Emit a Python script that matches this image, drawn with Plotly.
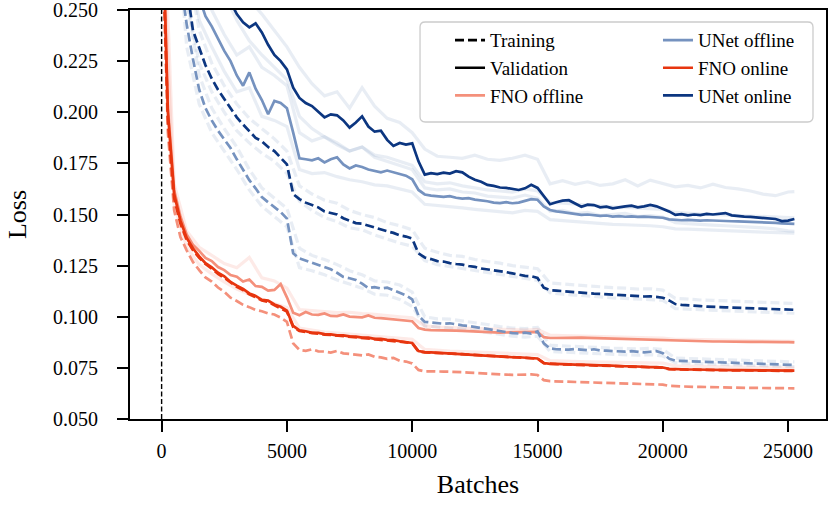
import plotly.graph_objects as go

# ---------------- data ----------------
batches = list(range(0, 25001, 250)) + [25250]          # 102 points
batches_coarse = list(range(0, 25001, 500)) + [25250]   # 52 points
divider_batch = 0

fno_on_val = [
    0.310, 0.200, 0.160, 0.147, 0.1385, 0.1335, 0.1295, 0.1262, 0.1242, 0.1215,
    0.1198, 0.1170, 0.1152, 0.1136, 0.1114, 0.1102, 0.1083, 0.1079, 0.1060, 0.1049,
    0.1030, 0.0955, 0.0933, 0.0929, 0.0921, 0.0921, 0.0915, 0.0914, 0.0909, 0.0909,
    0.0904, 0.0903, 0.0898, 0.0898, 0.0892, 0.0892, 0.0887, 0.0886, 0.0880, 0.0877,
    0.0872, 0.0832, 0.0827, 0.0826, 0.0824, 0.0824, 0.0821, 0.0821, 0.0818, 0.0817,
    0.0814, 0.0813, 0.0810, 0.0809, 0.0806, 0.0805, 0.0802, 0.0802, 0.0800, 0.0799,
    0.0796, 0.0774, 0.0770, 0.0770, 0.0768, 0.0768, 0.0766, 0.0766, 0.0764, 0.0764,
    0.0762, 0.0762, 0.0760, 0.0760, 0.0758, 0.0758, 0.0756, 0.0756, 0.0754, 0.0754,
    0.0752, 0.0745, 0.0743, 0.0743, 0.0742, 0.0742, 0.0741, 0.0741, 0.0740, 0.0740,
    0.0740, 0.0739, 0.0739, 0.0739, 0.0738, 0.0738, 0.0738, 0.0737, 0.0737, 0.0737,
    0.0736, 0.0737,
]
fno_on_train = [
    0.300, 0.196, 0.158, 0.1455, 0.1375, 0.1325, 0.1288, 0.1258, 0.1235, 0.1210,
    0.1190, 0.1166, 0.1146, 0.1130, 0.1110, 0.1096, 0.1080, 0.1072, 0.1057, 0.1044,
    0.1025, 0.0950, 0.0930, 0.0925, 0.0920, 0.0917, 0.0913, 0.0911, 0.0908, 0.0905,
    0.0902, 0.0900, 0.0897, 0.0895, 0.0891, 0.0889, 0.0886, 0.0883, 0.0879, 0.0875,
    0.0870, 0.0830, 0.0826, 0.0825, 0.0823, 0.0822, 0.0820, 0.0819, 0.0817, 0.0815,
    0.0813, 0.0811, 0.0809, 0.0807, 0.0805, 0.0803, 0.0801, 0.0800, 0.0799, 0.0797,
    0.0795, 0.0773, 0.0769, 0.0768, 0.0767, 0.0766, 0.0765, 0.0764, 0.0763, 0.0762,
    0.0761, 0.0760, 0.0759, 0.0758, 0.0757, 0.0756, 0.0755, 0.0754, 0.0753, 0.0752,
    0.0751, 0.0744, 0.0742, 0.0742, 0.0741, 0.0741, 0.0740, 0.0740, 0.0739, 0.0739,
    0.0739, 0.0738, 0.0738, 0.0738, 0.0737, 0.0737, 0.0737, 0.0736, 0.0736, 0.0736,
    0.0735, 0.0735,
]
fno_off_val = [
    0.312, 0.202, 0.162, 0.149, 0.1402, 0.1352, 0.1322, 0.1288, 0.1272, 0.1243,
    0.1228, 0.1204, 0.1196, 0.1172, 0.1182, 0.1150, 0.1146, 0.1128, 0.1131, 0.1160,
    0.1095, 0.1020, 0.1007, 0.1023, 0.1011, 0.1009, 0.1016, 0.1004, 0.1003, 0.1011,
    0.1001, 0.1000, 0.0997, 0.1006, 0.0995, 0.0993, 0.0990, 0.0989, 0.0985, 0.0982,
    0.0978, 0.0945, 0.0937, 0.0935, 0.0935, 0.0934, 0.0933, 0.0932, 0.0931, 0.0929,
    0.0928, 0.0927, 0.0926, 0.0924, 0.0922, 0.0923, 0.0924, 0.0925, 0.0924, 0.0926,
    0.0926, 0.0900, 0.0896, 0.0896, 0.0897, 0.0897, 0.0898, 0.0898, 0.0897, 0.0896,
    0.0895, 0.0894, 0.0893, 0.0892, 0.0891, 0.0891, 0.0890, 0.0889, 0.0888, 0.0888,
    0.0887, 0.0883, 0.0882, 0.0881, 0.0881, 0.0880, 0.0880, 0.0879, 0.0879, 0.0879,
    0.0878, 0.0878, 0.0878, 0.0877, 0.0877, 0.0877, 0.0876, 0.0876, 0.0876, 0.0876,
    0.0876, 0.0875,
]
fno_off_train = [
    0.300, 0.190, 0.152, 0.139, 0.1325, 0.1268, 0.1228, 0.1192, 0.1172, 0.1143,
    0.1122, 0.1093, 0.1077, 0.1058, 0.1047, 0.1033, 0.1027, 0.1016, 0.1011, 0.0996,
    0.0975, 0.0870, 0.0838, 0.0833, 0.0841, 0.0831, 0.0830, 0.0825, 0.0833, 0.0821,
    0.0818, 0.0815, 0.0811, 0.0816, 0.0804, 0.0801, 0.0794, 0.0799, 0.0785, 0.0781,
    0.0772, 0.0740, 0.0733, 0.0733, 0.0734, 0.0732, 0.0731, 0.0731, 0.0729, 0.0727,
    0.0725, 0.0723, 0.0721, 0.0719, 0.0716, 0.0717, 0.0716, 0.0717, 0.0716, 0.0718,
    0.0715, 0.0690, 0.0685, 0.0684, 0.0683, 0.0682, 0.0681, 0.0681, 0.0680, 0.0679,
    0.0678, 0.0678, 0.0677, 0.0676, 0.0675, 0.0674, 0.0673, 0.0671, 0.0670, 0.0669,
    0.0668, 0.0662, 0.0660, 0.0659, 0.0658, 0.0657, 0.0657, 0.0656, 0.0655, 0.0655,
    0.0654, 0.0654, 0.0653, 0.0653, 0.0652, 0.0652, 0.0652, 0.0651, 0.0651, 0.0651,
    0.0651, 0.0650,
]
unet_off_val = [
    0.800, 0.550, 0.420, 0.350, 0.300, 0.275, 0.256, 0.247, 0.242, 0.236,
    0.230, 0.225, 0.218, 0.213, 0.2195, 0.2115, 0.2060, 0.1990, 0.2055, 0.2045,
    0.2020, 0.1900, 0.1775, 0.1770, 0.1765, 0.1775, 0.1755, 0.1770, 0.1780, 0.1745,
    0.1725, 0.1740, 0.1732, 0.1720, 0.1712, 0.1706, 0.1715, 0.1705, 0.1698, 0.1690,
    0.1672, 0.1620, 0.1598, 0.1592, 0.1590, 0.1586, 0.1590, 0.1582, 0.1578, 0.1580,
    0.1573, 0.1570, 0.1565, 0.1558, 0.1556, 0.1560, 0.1555, 0.1558, 0.1565, 0.1575,
    0.1572, 0.1540, 0.1522, 0.1515, 0.1512, 0.1508, 0.1502, 0.1498, 0.1500, 0.1496,
    0.1493, 0.1495, 0.1490, 0.1492, 0.1489, 0.1491, 0.1488, 0.1490, 0.1489, 0.1486,
    0.1484, 0.1476, 0.1473, 0.1472, 0.1474, 0.1471, 0.1470, 0.1472, 0.1470, 0.1468,
    0.1469, 0.1467, 0.1466, 0.1465, 0.1466, 0.1463, 0.1462, 0.1460, 0.1459, 0.1457,
    0.1455, 0.1454,
]
unet_off_train = [
    0.550, 0.420, 0.330, 0.265, 0.243, 0.226, 0.2110, 0.2020, 0.1960, 0.1910,
    0.1865, 0.1825, 0.1770, 0.1718, 0.1668, 0.1628, 0.1585, 0.1560, 0.1535, 0.1512,
    0.1480, 0.1310, 0.1285, 0.1275, 0.1262, 0.1255, 0.1242, 0.1232, 0.1215, 0.1195,
    0.1188, 0.1180, 0.1162, 0.1140, 0.1145, 0.1138, 0.1142, 0.1130, 0.1118, 0.1105,
    0.1085, 0.1005, 0.0975, 0.0972, 0.0968, 0.0966, 0.0968, 0.0962, 0.0958, 0.0955,
    0.0950, 0.0944, 0.0938, 0.0932, 0.0928, 0.0925, 0.0920, 0.0918, 0.0922, 0.0918,
    0.0928, 0.0870, 0.0845, 0.0841, 0.0840, 0.0839, 0.0842, 0.0838, 0.0836, 0.0841,
    0.0835, 0.0834, 0.0832, 0.0830, 0.0829, 0.0832, 0.0828, 0.0826, 0.0829, 0.0832,
    0.0822, 0.0795, 0.0785, 0.0784, 0.0783, 0.0782, 0.0781, 0.0780, 0.0779, 0.0778,
    0.0777, 0.0776, 0.0775, 0.0774, 0.0773, 0.0772, 0.0770, 0.0769, 0.0767, 0.0766,
    0.0765, 0.0764,
]
unet_on_val = [
    0.900, 0.700, 0.550, 0.450, 0.390, 0.350, 0.320, 0.300, 0.285, 0.272,
    0.262, 0.254, 0.248, 0.2440, 0.2415, 0.2435, 0.2390, 0.2330, 0.2280, 0.2250,
    0.2210, 0.2120, 0.2070, 0.2045, 0.2030, 0.2000, 0.1975, 0.1990, 0.1985, 0.1960,
    0.1925, 0.1950, 0.1980, 0.1930, 0.1905, 0.1910, 0.1865, 0.1835, 0.1850, 0.1842,
    0.1848, 0.1760, 0.1695, 0.1702, 0.1698, 0.1705, 0.1700, 0.1712, 0.1706, 0.1685,
    0.1670, 0.1660, 0.1645, 0.1640, 0.1632, 0.1630, 0.1625, 0.1620, 0.1628, 0.1645,
    0.1630, 0.1590, 0.1550, 0.1560, 0.1568, 0.1570, 0.1552, 0.1538, 0.1548, 0.1546,
    0.1535, 0.1538, 0.1530, 0.1536, 0.1540, 0.1543, 0.1535, 0.1540, 0.1547, 0.1540,
    0.1528, 0.1515, 0.1498, 0.1502, 0.1496, 0.1500, 0.1497, 0.1503, 0.1500, 0.1505,
    0.1507, 0.1496, 0.1492, 0.1490, 0.1488, 0.1485, 0.1483, 0.1481, 0.1478, 0.1468,
    0.1470, 0.1478,
]
unet_on_train = [
    0.600, 0.450, 0.360, 0.300, 0.262, 0.240, 0.231, 0.2230, 0.2165, 0.2110,
    0.2065, 0.2020, 0.1975, 0.1940, 0.1905, 0.1875, 0.1858, 0.1830, 0.1810, 0.1780,
    0.1745, 0.1600, 0.1575, 0.1558, 0.1548, 0.1535, 0.1515, 0.1508, 0.1500, 0.1482,
    0.1470, 0.1458, 0.1455, 0.1445, 0.1436, 0.1425, 0.1418, 0.1410, 0.1398, 0.1392,
    0.1382, 0.1310, 0.1290, 0.1282, 0.1272, 0.1270, 0.1262, 0.1258, 0.1255, 0.1248,
    0.1244, 0.1236, 0.1232, 0.1228, 0.1222, 0.1218, 0.1212, 0.1205, 0.1200, 0.1198,
    0.1190, 0.1142, 0.1130, 0.1128, 0.1125, 0.1122, 0.1120, 0.1118, 0.1115, 0.1113,
    0.1112, 0.1110, 0.1107, 0.1106, 0.1104, 0.1102, 0.1100, 0.1099, 0.1100, 0.1097,
    0.1093, 0.1080, 0.1062, 0.1058, 0.1055, 0.1054, 0.1052, 0.1050, 0.1050, 0.1047,
    0.1046, 0.1045, 0.1043, 0.1042, 0.1041, 0.1040, 0.1039, 0.1038, 0.1037, 0.1036,
    0.1035, 0.1034,
]

# individual runs (faint), on the coarse grid
unet_on_val_run_a = [
    0.950, 0.600, 0.420, 0.340, 0.300, 0.275, 0.262, 0.255, 0.248, 0.240,
    0.232, 0.222, 0.214, 0.208, 0.210, 0.202, 0.212, 0.203, 0.197, 0.195,
    0.190, 0.182, 0.1785, 0.1780, 0.1775, 0.1790, 0.1770, 0.1765, 0.1775, 0.1790,
    0.1770, 0.1650, 0.1665, 0.1648, 0.1660, 0.1642, 0.1650, 0.1670, 0.1640, 0.1668,
    0.1650, 0.1635, 0.1642, 0.1630, 0.1648, 0.1632, 0.1625, 0.1615, 0.1600, 0.1592,
    0.1610, 0.1612,
]
unet_on_val_run_b = [
    0.900, 0.550, 0.380, 0.310, 0.275, 0.258, 0.245, 0.235, 0.228, 0.222,
    0.216, 0.198, 0.192, 0.188, 0.185, 0.181, 0.183, 0.178, 0.176, 0.174,
    0.172, 0.163, 0.162, 0.1625, 0.161, 0.1605, 0.159, 0.1585, 0.158, 0.1595,
    0.1580, 0.1515, 0.1520, 0.1505, 0.1510, 0.1495, 0.1500, 0.1505, 0.1490, 0.1495,
    0.1488, 0.1460, 0.1455, 0.1450, 0.1448, 0.1445, 0.1440, 0.1438, 0.1435, 0.1430,
    0.1420, 0.1418,
]
unet_off_val_run_a = [
    0.850, 0.460, 0.320, 0.265, 0.250, 0.238, 0.228, 0.232, 0.222, 0.218,
    0.213, 0.190, 0.186, 0.188, 0.184, 0.181, 0.183, 0.179, 0.178, 0.176,
    0.174, 0.166, 0.165, 0.1655, 0.164, 0.163, 0.162, 0.1615, 0.161, 0.1625,
    0.1615, 0.1560, 0.1555, 0.1550, 0.1545, 0.1540, 0.1538, 0.1535, 0.1532, 0.1530,
    0.1525, 0.1510, 0.1505, 0.1502, 0.1500, 0.1498, 0.1495, 0.1492, 0.1490, 0.1488,
    0.1485, 0.1484,
]
unet_off_val_run_b = [
    0.750, 0.400, 0.280, 0.245, 0.232, 0.220, 0.210, 0.212, 0.198, 0.196,
    0.193, 0.172, 0.170, 0.1705, 0.1685, 0.167, 0.166, 0.1645, 0.164, 0.1625,
    0.161, 0.155, 0.1545, 0.1540, 0.1532, 0.1525, 0.152, 0.1512, 0.1508, 0.152,
    0.1515, 0.1475, 0.1470, 0.1465, 0.1460, 0.1455, 0.1452, 0.1450, 0.1448, 0.1445,
    0.1440, 0.1430, 0.1428, 0.1425, 0.1423, 0.1420, 0.1418, 0.1416, 0.1414, 0.1412,
    0.1410, 0.1409,
]
unet_on_train_run_a = [
    0.620, 0.380, 0.275, 0.240, 0.224, 0.213, 0.204, 0.197, 0.192, 0.187,
    0.181, 0.164, 0.160, 0.157, 0.1555, 0.152, 0.150, 0.1485, 0.146, 0.1445,
    0.1425, 0.1335, 0.1315, 0.1300, 0.1295, 0.1280, 0.1270, 0.1262, 0.1250, 0.1242,
    0.1235, 0.1165, 0.1160, 0.1155, 0.1150, 0.1148, 0.1142, 0.1140, 0.1135, 0.1137,
    0.1130, 0.1090, 0.1085, 0.1082, 0.1080, 0.1078, 0.1075, 0.1073, 0.1070, 0.1068,
    0.1066, 0.1065,
]
unet_on_train_run_b = [
    0.580, 0.350, 0.255, 0.224, 0.210, 0.200, 0.191, 0.185, 0.180, 0.176,
    0.170, 0.1565, 0.152, 0.1485, 0.1465, 0.1435, 0.1425, 0.140, 0.138, 0.136,
    0.1345, 0.1275, 0.1255, 0.1245, 0.1235, 0.1225, 0.1215, 0.1205, 0.1195, 0.1188,
    0.1178, 0.1118, 0.1110, 0.1106, 0.1100, 0.1097, 0.1092, 0.1090, 0.1086, 0.1084,
    0.1080, 0.1040, 0.1037, 0.1034, 0.1031, 0.1029, 0.1027, 0.1025, 0.1022, 0.1020,
    0.1018, 0.1017,
]
unet_off_train_run_a = [
    0.570, 0.350, 0.255, 0.218, 0.202, 0.192, 0.183, 0.172, 0.163, 0.158,
    0.153, 0.1335, 0.1300, 0.1280, 0.1255, 0.1225, 0.1205, 0.1175, 0.1170, 0.1155,
    0.1120, 0.1000, 0.0990, 0.0988, 0.0980, 0.0972, 0.0962, 0.0952, 0.0945, 0.0942,
    0.0948, 0.0860, 0.0856, 0.0855, 0.0852, 0.0848, 0.0846, 0.0845, 0.0842, 0.0846,
    0.0840, 0.0798, 0.0795, 0.0793, 0.0792, 0.0790, 0.0788, 0.0786, 0.0784, 0.0782,
    0.0780, 0.0779,
]
unet_off_train_run_b = [
    0.530, 0.310, 0.232, 0.204, 0.190, 0.181, 0.172, 0.162, 0.154, 0.149,
    0.144, 0.1240, 0.1225, 0.1205, 0.1180, 0.1160, 0.1140, 0.1110, 0.1105, 0.1085,
    0.1050, 0.0955, 0.0950, 0.0946, 0.0940, 0.0932, 0.0922, 0.0914, 0.0905, 0.0900,
    0.0905, 0.0830, 0.0826, 0.0825, 0.0822, 0.0819, 0.0817, 0.0815, 0.0812, 0.0815,
    0.0808, 0.0775, 0.0772, 0.0770, 0.0769, 0.0767, 0.0765, 0.0763, 0.0761, 0.0759,
    0.0757, 0.0756,
]
fno_val_run_a = [
    0.330, 0.165, 0.142, 0.134, 0.130, 0.126, 0.124, 0.1290, 0.119, 0.1175,
    0.114, 0.1035, 0.1030, 0.1025, 0.1020, 0.1022, 0.1015, 0.1012, 0.1005, 0.1000,
    0.0995, 0.0955, 0.0950, 0.0948, 0.0945, 0.0943, 0.0940, 0.0938, 0.0936, 0.0935,
    0.0938, 0.0910, 0.0908, 0.0907, 0.0905, 0.0904, 0.0902, 0.0900, 0.0898, 0.0897,
    0.0895, 0.0890, 0.0889, 0.0888, 0.0887, 0.0886, 0.0885, 0.0884, 0.0883, 0.0882,
    0.0881, 0.0880,
]
fno_val_run_b = [
    0.300, 0.155, 0.134, 0.1255, 0.121, 0.117, 0.1135, 0.111, 0.1085, 0.1065,
    0.1045, 0.0945, 0.0935, 0.0925, 0.0920, 0.0915, 0.0910, 0.0905, 0.0900, 0.0895,
    0.0890, 0.0840, 0.0835, 0.0832, 0.0830, 0.0828, 0.0825, 0.0822, 0.0820, 0.0818,
    0.0815, 0.0785, 0.0782, 0.0780, 0.0779, 0.0778, 0.0777, 0.0776, 0.0775, 0.0774,
    0.0773, 0.0760, 0.0758, 0.0757, 0.0756, 0.0755, 0.0754, 0.0753, 0.0752, 0.0751,
    0.0750, 0.0749,
]

y_ticks = [0.050, 0.075, 0.100, 0.125, 0.150, 0.175, 0.200, 0.225, 0.250]
x_ticks = [0, 5000, 10000, 15000, 20000, 25000]

# ---------------- style ----------------
FONT = "Liberation Serif"
C_FNO_OFF = "#f4907b"
C_FNO_ON = "#e7350f"
C_UNET_OFF = "#7592bf"
C_UNET_ON = "#0c3680"
FAINT_UNET = "rgba(117,146,191,0.17)"
FAINT_FNO = "rgba(231,53,15,0.10)"
LW = 2.7
DASH = "9px,4px"

fig = go.Figure()

def add(x, y, color, dash=None, width=LW, name=None, legend=None, rank=None, show=False):
    fig.add_trace(go.Scatter(
        x=x, y=y, mode="lines", name=name,
        line=dict(color=color, width=width, dash=dash or "solid"),
        showlegend=show, legend=legend, legendrank=rank,
        legendgroup=name, hoverinfo="skip"))

# faint individual runs
for run in (unet_on_val_run_a, unet_on_val_run_b, unet_off_val_run_a, unet_off_val_run_b):
    add(batches_coarse, run, FAINT_UNET, width=3.2)
for run in (unet_on_train_run_a, unet_on_train_run_b, unet_off_train_run_a, unet_off_train_run_b):
    add(batches_coarse, run, FAINT_UNET, dash=DASH, width=3.2)
for run in (fno_val_run_a, fno_val_run_b):
    add(batches_coarse, run, FAINT_FNO, width=3.2)

# main curves
add(batches, fno_off_train, C_FNO_OFF, dash=DASH)
add(batches, fno_off_val, C_FNO_OFF, name="FNO offline", legend="legend", rank=3, show=True)
add(batches, unet_off_train, C_UNET_OFF, dash=DASH)
add(batches, unet_off_val, C_UNET_OFF, name="UNet offline", legend="legend2", rank=1, show=True)
add(batches, fno_on_train, C_FNO_ON, dash=DASH)
add(batches, fno_on_val, C_FNO_ON, name="FNO online", legend="legend2", rank=2, show=True)
add(batches, unet_on_train, C_UNET_ON, dash=DASH)
add(batches, unet_on_val, C_UNET_ON, name="UNet online", legend="legend2", rank=3, show=True)

# legend-only entries
add([None], [None], "black", dash=DASH, name="Training", legend="legend", rank=1, show=True)
add([None], [None], "black", name="Validation", legend="legend", rank=2, show=True)

# legend frame (rounded, semi-transparent)
x0, x1, yb, yt = 0.4167, 0.9813, 0.7262, 0.9707
rx, ry = 0.0075, 0.0125
frame = (f"M {x0+rx},{yt} L {x1-rx},{yt} Q {x1},{yt} {x1},{yt-ry} "
         f"L {x1},{yb+ry} Q {x1},{yb} {x1-rx},{yb} L {x0+rx},{yb} "
         f"Q {x0},{yb} {x0},{yb+ry} L {x0},{yt-ry} Q {x0},{yt} {x0+rx},{yt} Z")
fig.add_shape(type="path", path=frame, xref="paper", yref="paper",
              fillcolor="rgba(255,255,255,0.8)", line=dict(color="#cccccc", width=1.3),
              layer="above")

fig.add_shape(type="line", x0=divider_batch, x1=divider_batch, y0=0, y1=1,
              xref="x", yref="paper", line=dict(color="black", width=1.4, dash="5px,2.5px"),
              layer="below")

legend_common = dict(bgcolor="rgba(0,0,0,0)", borderwidth=0,
                     font=dict(family=FONT, size=19, color="black"),
                     yanchor="top", xanchor="left", tracegroupgap=1, traceorder="normal")

fig.update_layout(
    width=831, height=508,
    margin=dict(l=130, r=5, t=10, b=89, autoexpand=False),
    paper_bgcolor="white", plot_bgcolor="white",
    font=dict(family=FONT, color="black"),
    legend=dict(x=0.4598, y=0.9726, **legend_common),
    legend2=dict(x=0.7586, y=0.9726, **legend_common),
    xaxis=dict(range=[-1262, 26512], tickvals=x_ticks, tickformat="d", automargin=False,
               showline=True, mirror=True, linecolor="black", linewidth=1.8,
               ticks="outside", ticklen=11, tickwidth=1.8, tickcolor="black",
               showgrid=False, zeroline=False, ticklabelstandoff=2,
               ticklabeloverflow="allow",
               tickfont=dict(family=FONT, size=20, color="black"),
               title=dict(text="Batches", font=dict(family=FONT, size=26, color="black"),
                          standoff=14)),
    yaxis=dict(range=[0.05, 0.250001], tickvals=y_ticks, tickformat=".3f", automargin=False,
               showline=True, mirror=True, linecolor="black", linewidth=1.8,
               ticks="outside", ticklen=11, tickwidth=1.8, tickcolor="black",
               showgrid=False, zeroline=False, ticklabelstandoff=15,
               ticklabeloverflow="allow",
               tickfont=dict(family=FONT, size=20, color="black"),
               title=dict(text="Loss", font=dict(family=FONT, size=26, color="black"),
                          standoff=19)),
)

fig.write_html("out.html", config={"displayModeBar": False},
               post_script="document.body.style.margin='0px';")
